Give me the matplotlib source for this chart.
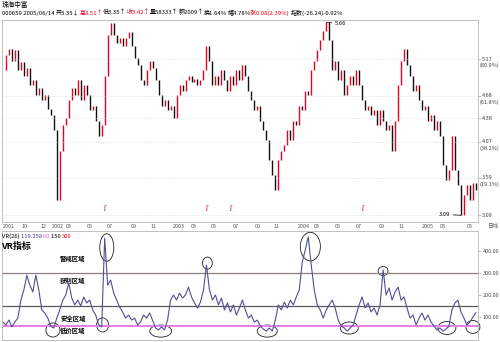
import numpy as np
import matplotlib
matplotlib.use('Agg')
import matplotlib.pyplot as plt
import matplotlib.transforms as mtransforms
from matplotlib.patches import Ellipse

plt.rcParams['font.family'] = ['Noto Sans CJK SC', 'DejaVu Sans']

# closing prices, roughly one point per trading week (2001/08 - 2005/06/14)
close = [5.02, 5.22, 5.31, 5.15, 5.29, 5.02, 5.13, 4.95, 5.05, 4.82,
         4.89, 4.69, 4.78, 4.62, 4.69, 4.51, 4.42, 4.22, 3.29, 3.95,
         4.29, 4.38, 4.62, 4.78, 4.69, 4.89, 4.62, 4.82, 4.69, 4.49,
         4.55, 4.35, 4.15, 4.29, 4.95, 5.49, 5.65, 5.49, 5.39, 5.45,
         5.35, 5.45, 5.53, 5.35, 5.18, 5.09, 4.89, 4.82, 5.02, 5.15,
         5.05, 4.89, 4.69, 4.55, 4.62, 4.49, 4.55, 4.38, 4.69, 4.82,
         4.75, 4.89, 4.95, 4.86, 4.91, 4.82, 4.89, 5.02, 5.35, 5.15,
         4.82, 4.95, 4.82, 5.02, 4.89, 4.75, 4.95, 4.82, 5.02, 4.89,
         5.09, 4.95, 4.75, 4.62, 4.49, 4.55, 4.35, 4.22, 4.09, 3.82,
         3.62, 3.42, 3.82, 3.95, 4.02, 4.22, 4.09, 4.35, 4.29, 4.55,
         4.49, 4.75, 4.69, 5.02, 5.15, 5.29, 5.42, 5.55, 5.66, 5.42,
         5.02, 5.15, 4.89, 5.02, 4.69, 4.82, 4.95, 4.82, 5.02, 4.82,
         4.62, 4.49, 4.55, 4.42, 4.49, 4.29, 4.49, 4.35, 4.22, 4.29,
         3.95, 4.35, 4.82, 5.15, 5.31, 5.09, 4.95, 4.75, 4.82, 4.62,
         4.49, 4.55, 4.35, 4.42, 4.22, 4.35, 4.15, 3.76, 3.56, 3.69,
         4.15, 3.69, 3.49, 3.09, 3.36, 3.49, 3.29, 3.52, 3.42]

# VR(26) indicator at the same points
vr = [77, 64, 86, 55, 77, 95, 177, 223, 290, 245,
      214, 290, 223, 132, 118, 95, 59, 50, 95, 132,
      177, 200, 255, 186, 155, 177, 150, 191, 164, 177,
      132, 109, 64, 55, 459, 245, 268, 209, 177, 145,
      123, 95, 109, 86, 95, 64, 77, 109, 95, 118,
      86, 50, 41, 55, 41, 86, 177, 200, 177, 209,
      186, 200, 236, 191, 164, 141, 168, 223, 336, 223,
      177, 200, 155, 186, 132, 164, 123, 155, 109, 141,
      177, 132, 95, 109, 77, 86, 59, 45, 36, 50,
      36, 86, 155, 132, 168, 141, 177, 155, 191, 223,
      350, 405, 464, 336, 223, 155, 132, 95, 132, 155,
      177, 141, 86, 59, 50, 36, 50, 64, 109, 155,
      191, 141, 164, 123, 141, 109, 155, 314, 200, 232,
      177, 214, 236, 177, 191, 141, 95, 109, 64, 95,
      118, 86, 109, 77, 59, 41, 50, 36, 45, 59,
      132, 164, 177, 123, 95, 64, 77, 100, 119]

date_ticks = [2, 7.3, 13.7, 18.3, 22, 29, 35.7, 43.7, 50.3, 58.7, 63.7, 70.3,
              77.7, 85, 91.3, 100.7, 104.7, 112, 118.7, 126.7, 133.3, 142, 147, 156]
date_labels = ['2001', '10', '12', '2002', '03', '05', '07', '09', '11',
               '2003', '03', '05', '07', '09', '11', '2004', '03', '05',
               '07', '09', '11', '2005', '03', '05']

gold_levels = [5.17, 4.68, 4.38, 4.07, 3.59, 3.09]
gold_pct = ['(80.9%)', '(61.8%)', '', '(38.2%)', '(19.1%)', '']
exright_idx = [34, 68, 76, 120]

vr_levels = [300, 150, 60]
vr_level_colors = ['#8a7f7f', '#5a5a5a', '#e482e4']
vr_ticks = [100, 200, 300, 400]

# circled spots on the VR panel: (x index, value, width, height)
circles = [(16.7, 41, 4.7, 64), (33.3, 64, 4.0, 64), (34.7, 416, 4.7, 125),
           (52.7, 36, 7.3, 55), (68.3, 345, 3.3, 55), (88.3, 36, 6.7, 55),
           (102.7, 420, 6.7, 130), (115.7, 50, 6.0, 55), (127, 309, 3.3, 41),
           (148.3, 50, 6.0, 59), (157, 55, 4.7, 59)]
zones = ['警戒区域', '获利区域', '安全区域', '低价区域']
zone_y_px = [258, 280, 318, 330]

RED = '#e8001c'
header2 = [('000659 2005/06/14 ', 'black'), ('开3.35↓', 'black'),
           ('高3.51↑', RED), ('低3.35↑', 'black'), ('收3.42↑', RED),
           ('量58333↑', 'black'), ('额2009↑', 'black'), ('换1.64%', 'black'),
           ('幅4.78%', 'black'), ('涨0.08(2.39%) ', RED),
           ('指数(-26.24)-0.92%', 'black')]
vr_header = [('VR(26) ', 'black'), ('119.258 ', '#3c3c8c'), ('60 ', '#e060e0'),
             ('150 ', 'black'), ('300', RED)]

W, H = 500, 342
fig = plt.figure(figsize=(W / 100, H / 100), dpi=100)
fig.patch.set_facecolor('white')

def fx(px):
    return px / W

def fy(py):
    return 1 - py / H

close = np.array(close)
vr = np.array(vr)
x = np.arange(len(close))
opens = np.r_[close[0], close[:-1]]
up = close >= opens

# ---- price panel
ax1 = fig.add_axes([fx(2), fy(222), fx(476), 202 / H])
ax1.vlines(x[up], opens[up], close[up], color=RED, lw=1.0)
ax1.vlines(x[~up], close[~up], opens[~up], color='#101010', lw=1.0)
ax1.hlines(gold_levels, -1, len(x) + 1, colors='#d4d4d4', linestyles=':', lw=0.5)
ax1.set_xlim(-0.3, 158.7)
ax1.set_ylim(3.00, 5.69)
ax1.set_xticks(date_ticks)
ax1.set_xticklabels(date_labels, fontsize=3.9, color='#555555')
ax1.tick_params(axis='x', length=0, pad=1.2)
ax1.yaxis.tick_right()
ax1.set_yticks(gold_levels)
ax1.set_yticklabels([])
ax1.tick_params(axis='y', length=2, width=0.4, color='#909090')
for s in ax1.spines.values():
    s.set_color('#b8b8b8')
    s.set_linewidth(0.6)

trans = mtransforms.blended_transform_factory(ax1.transAxes, ax1.transData)
for lvl, pct in zip(gold_levels, gold_pct):
    ax1.text(1.009, lvl, f'{lvl:.2f}', transform=trans, fontsize=4.0,
             va='center', ha='left', color='#404040', clip_on=False)
    if pct:
        ax1.annotate(pct, xy=(1.004, lvl), xycoords=trans, xytext=(0, -4.5),
                     textcoords='offset points', fontsize=4.0, va='center',
                     ha='left', color='#404040', annotation_clip=False)

mtrans = mtransforms.blended_transform_factory(ax1.transData, ax1.transAxes)
for i in exright_idx:
    ax1.text(i, 0.07, 'ʃ', transform=mtrans, color=RED, fontsize=5,
             ha='center', va='center', family='DejaVu Sans')

imax, imin = int(np.argmax(close)), int(np.argmin(close))
ax1.annotate(f'{close[imax]:.2f}', xy=(imax, close[imax]),
             xytext=(imax + 2.8, close[imax] - 0.02), fontsize=4.2, va='center',
             arrowprops=dict(arrowstyle='-', lw=0.5, color='black',
                             shrinkA=0, shrinkB=0))
ax1.annotate(f'{close[imin]:.2f}', xy=(imin, close[imin]),
             xytext=(imin - 3.6, close[imin] + 0.01), fontsize=4.2, va='center',
             ha='right',
             arrowprops=dict(arrowstyle='-', lw=0.5, color='black',
                             shrinkA=0, shrinkB=0))
fig.text(fx(498), fy(227), '日线', fontsize=4.0, ha='right', va='center',
         color='#555555')

# ---- VR panel
ax2 = fig.add_axes([fx(2), fy(340), fx(476), 109 / H])
for lvl, c in zip(vr_levels, vr_level_colors):
    ax2.axhline(lvl, color=c, lw=1.5 if lvl == 60 else 0.9)
ax2.plot(x, vr, color='#4f4f96', lw=0.8)
ax2.set_xlim(-0.3, 158.7)
ax2.set_ylim(-4.5, 491)
ax2.set_xticks([])
ax2.yaxis.tick_right()
ax2.set_yticks(vr_ticks)
ax2.set_yticklabels([f'{t:.2f}' for t in vr_ticks], fontsize=4.0, color='#505050')
ax2.tick_params(axis='y', length=2, width=0.4, color='#909090', pad=1.5)
for s in ax2.spines.values():
    s.set_color('#b8b8b8')
    s.set_linewidth(0.6)

for cx, cy, w, h in circles:
    ax2.add_patch(Ellipse((cx, cy), w, h, fill=False, ec='#202020', lw=0.6,
                          clip_on=False))

fig.text(fx(1), fy(246), 'VR指标', fontsize=6.5, fontweight='bold',
         ha='left', va='center')
for z, zy in zip(zones, zone_y_px):
    fig.text(fx(73), fy(zy), z, fontsize=4.6, fontweight='bold',
             ha='center', va='center')

# ---- header lines, pieces laid side by side using measured widths
renderer = fig.canvas.get_renderer()

def header(parts, px, py, size):
    for t, c in parts:
        txt = fig.text(fx(px), fy(py), t, color=c, fontsize=size,
                       ha='left', va='baseline')
        px += txt.get_window_extent(renderer).width * 100 / fig.dpi

header([('珠海中富', 'black')], 2, 6.5, 4.8)
header(header2, 2, 14.5, 4.3)
header(vr_header, 2, 237.5, 4.2)

fig.savefig('out.png', dpi=100)
